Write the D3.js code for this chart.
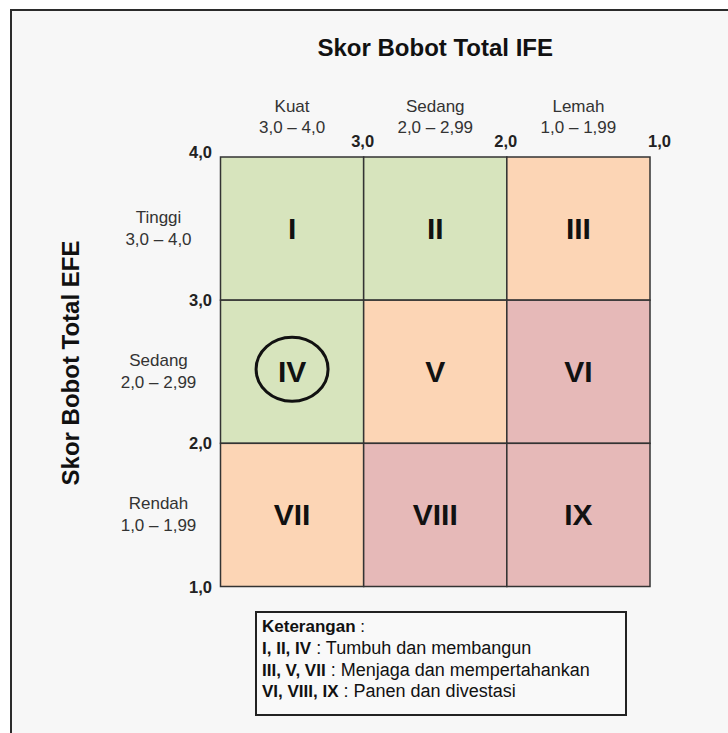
<!DOCTYPE html>
<html>
<head>
<meta charset="utf-8">
<script src="https://cdn.jsdelivr.net/npm/d3@7"></script>
<style>
  body { margin: 0; background: #ffffff; }
  svg text { font-family: "Liberation Sans", Arial, sans-serif; }
</style>
</head>
<body>
<div id="chart"></div>
<script>
// IE matrix: IFE on x (4 -> 1), EFE on y (4 -> 1)
const scoreTicks = [4, 3, 2, 1];
const ifeLabels = ["Kuat", "Sedang", "Lemah"];
const efeLabels = ["Tinggi", "Sedang", "Rendah"];
const rangeLabels = ["3,0 – 4,0", "2,0 – 2,99", "1,0 – 1,99"];
const cellNames = [
  ["I", "II", "III"],
  ["IV", "V", "VI"],
  ["VII", "VIII", "IX"]
];
// 0 = tumbuh, 1 = menjaga, 2 = panen
const cellGroup = [
  [0, 0, 1],
  [0, 1, 2],
  [1, 2, 2]
];
const groupColors = ["#D7E4BD", "#FCD5B5", "#E6B9B8"];
const selectedCell = "IV";
const legendTitle = "Keterangan";
const legendRoman = ["I, II, IV", "III, V, VII", "VI, VIII, IX"];
const legendText = ["Tumbuh dan membangun", "Menjaga dan mempertahankan", "Panen dan divestasi"];

const w = 728, h = 733;
const fmt = d => d3.format(".1f")(d).replace(".", ",");

const svg = d3.select("#chart").append("svg")
  .attr("width", w)
  .attr("height", h);

// frame
svg.append("rect")
  .attr("x", 11).attr("y", 10)
  .attr("width", 740).attr("height", 740)
  .attr("fill", "#f7f7f7")
  .attr("stroke", "#2b2b2b")
  .attr("stroke-width", 2);

let x = d3.scaleLinear().domain([4, 1]).range([220.5, 650]);
let y = d3.scaleLinear().domain([4, 1]).range([157, 586.5]);

// cells
let cells = [];
cellNames.forEach((row, i) => row.forEach((name, j) => {
  cells.push({ name: name, row: i, col: j, group: cellGroup[i][j] });
}));

let g = svg.append("g");

g.selectAll(".cell")
  .data(cells)
  .enter().append("rect")
  .attr("class", "cell")
  .attr("x", d => x(4 - d.col))
  .attr("y", d => y(4 - d.row))
  .attr("width", d => x(3 - d.col) - x(4 - d.col))
  .attr("height", d => y(3 - d.row) - y(4 - d.row))
  .attr("fill", d => groupColors[d.group])
  .attr("stroke", "#333")
  .attr("stroke-width", 1.5);

g.selectAll(".cellName")
  .data(cells)
  .enter().append("text")
  .attr("class", "cellName")
  .attr("x", d => (x(4 - d.col) + x(3 - d.col)) / 2)
  .attr("y", d => (y(4 - d.row) + y(3 - d.row)) / 2 + 10)
  .attr("text-anchor", "middle")
  .attr("font-size", 30)
  .attr("font-weight", "bold")
  .attr("fill", "#111")
  .text(d => d.name);

// circle round the selected cell
let sel = cells.find(d => d.name == selectedCell);
g.append("ellipse")
  .attr("cx", (x(4 - sel.col) + x(3 - sel.col)) / 2)
  .attr("cy", (y(4 - sel.row) + y(3 - sel.row)) / 2 - 2.5)
  .attr("rx", 36)
  .attr("ry", 32)
  .attr("fill", "none")
  .attr("stroke", "#111")
  .attr("stroke-width", 3);

// tick labels on top (IFE)
g.selectAll(".xtick")
  .data(scoreTicks.slice(1))
  .enter().append("text")
  .attr("class", "xtick")
  .attr("x", d => d == 1 ? x(d) - 2 : x(d) - 1)
  .attr("y", 147)
  .attr("text-anchor", d => d == 1 ? "start" : "middle")
  .attr("font-size", 16.5)
  .attr("font-weight", "bold")
  .attr("fill", "#222")
  .text(fmt);

// tick labels on the left (EFE)
g.selectAll(".ytick")
  .data(scoreTicks)
  .enter().append("text")
  .attr("class", "ytick")
  .attr("x", 212)
  .attr("y", d => d == 4 ? y(d) + 1 : y(d) + 6)
  .attr("text-anchor", "end")
  .attr("font-size", 16.5)
  .attr("font-weight", "bold")
  .attr("fill", "#222")
  .text(fmt);

// column headers
let colMid = i => (x(4 - i) + x(3 - i)) / 2;
let rowMid = i => (y(4 - i) + y(3 - i)) / 2;

g.selectAll(".colName")
  .data(ifeLabels)
  .enter().append("text")
  .attr("x", (d, i) => colMid(i))
  .attr("y", 112)
  .attr("text-anchor", "middle")
  .attr("font-size", 17)
  .attr("fill", "#333")
  .text(d => d);

g.selectAll(".colRange")
  .data(rangeLabels)
  .enter().append("text")
  .attr("x", (d, i) => colMid(i))
  .attr("y", 133)
  .attr("text-anchor", "middle")
  .attr("font-size", 17)
  .attr("fill", "#333")
  .text(d => d);

// row headers
g.selectAll(".rowName")
  .data(efeLabels)
  .enter().append("text")
  .attr("x", 158.5)
  .attr("y", (d, i) => rowMid(i) - 6)
  .attr("text-anchor", "middle")
  .attr("font-size", 17)
  .attr("fill", "#333")
  .text(d => d);

g.selectAll(".rowRange")
  .data(rangeLabels)
  .enter().append("text")
  .attr("x", 158.5)
  .attr("y", (d, i) => rowMid(i) + 16)
  .attr("text-anchor", "middle")
  .attr("font-size", 17)
  .attr("fill", "#333")
  .text(d => d);

// axis titles
svg.append("text")
  .attr("x", (x(4) + x(1)) / 2)
  .attr("y", 56)
  .attr("text-anchor", "middle")
  .attr("font-size", 24)
  .attr("font-weight", "bold")
  .attr("fill", "#111")
  .text("Skor Bobot Total IFE");

svg.append("text")
  .attr("transform", "translate(79," + 363 + ") rotate(-90)")
  .attr("text-anchor", "middle")
  .attr("font-size", 24)
  .attr("font-weight", "bold")
  .attr("fill", "#111")
  .text("Skor Bobot Total EFE");

// legend box
let lg = svg.append("g").attr("transform", "translate(256,612)");
lg.append("rect")
  .attr("width", 370).attr("height", 103)
  .attr("fill", "#f9f9f9")
  .attr("stroke", "#222")
  .attr("stroke-width", 2);

let t0 = lg.append("text").attr("x", 6).attr("y", 20)
  .attr("font-size", 17).attr("fill", "#111");
t0.append("tspan").attr("font-weight", "bold").text(legendTitle);
t0.append("tspan").text(" :");

lg.selectAll(".legendRow")
  .data(legendText)
  .enter().append("text")
  .attr("x", 6)
  .attr("y", (d, i) => 42 + i * 21.5)
  .attr("font-size", 18)
  .attr("fill", "#111")
  .each(function(d, i) {
    let t = d3.select(this);
    t.append("tspan").attr("font-weight", "bold").attr("font-size", 17).text(legendRoman[i]);
    t.append("tspan").text(" : " + d);
  });
</script>
</body>
</html>
